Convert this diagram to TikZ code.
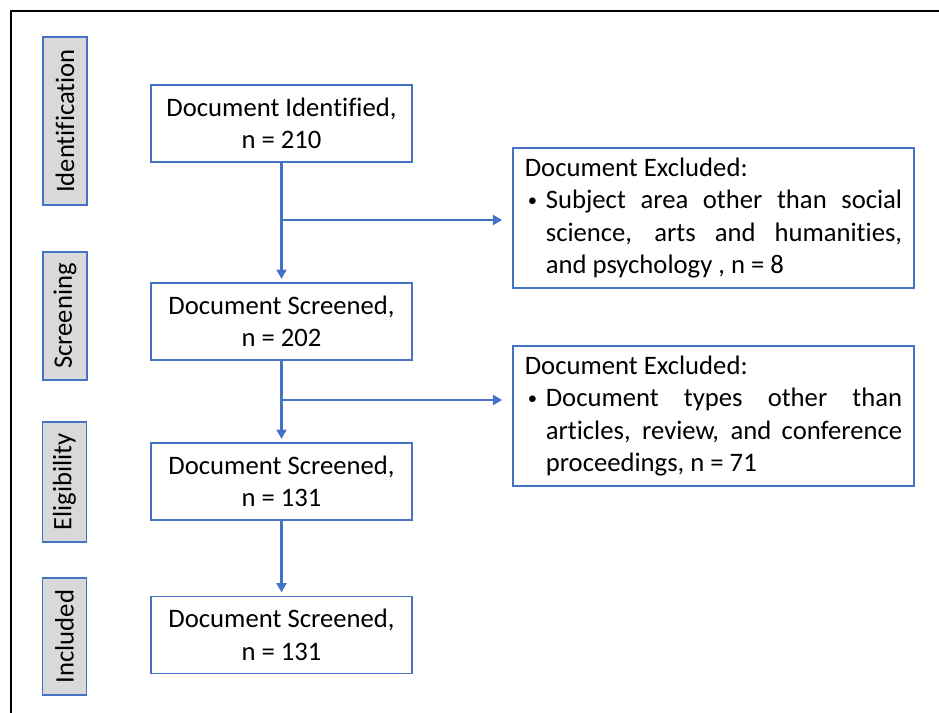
\documentclass[tikz,border=0pt]{standalone}
\usepackage{fontspec}
\setmainfont[Ligatures=NoCommon]{Carlito}
\usetikzlibrary{arrows.meta}
\definecolor{flowblue}{RGB}{68,114,196}
\definecolor{stagegray}{RGB}{217,217,217}
\newcommand{\bulletitem}[1]{\par\noindent\hspace*{2.25pt}\makebox[13.5pt][l]{\raisebox{1.5pt}{\fontsize{14}{14}\selectfont\textbullet}}\parbox[t]{267.25pt}{#1}}

\begin{document}
\begin{tikzpicture}[x=0.75pt,y=-0.75pt,>={Triangle[length=7pt,width=7.5pt]},font=\fontsize{20}{24.4}\selectfont]
\tikzset{
  stage/.style={draw=flowblue,fill=stagegray,line width=1.2pt,rotate=90,minimum height=33pt,inner sep=0pt},
  docbox/.style={draw=flowblue,line width=1.2pt,minimum width=195.75pt,minimum height=57.75pt,align=center,inner sep=0pt},
  exclbox/.style={draw=flowblue,line width=1.2pt,minimum width=300.75pt,minimum height=105pt,text width=283pt,align=justify,inner sep=0pt},
  flow/.style={draw=flowblue,line width=2pt,->,shorten >=2.5pt}
}
\useasboundingbox (0,0) rectangle (939,713);
% frame
\draw[line width=1.5pt] (939,11) -- (11,11) -- (11,713);
% stages
\node[stage,minimum width=126pt] (ident) at (65,121) {Identification};
\node[stage,minimum width=96pt] (screen) at (65,316) {Screening};
\node[stage,minimum width=90pt] (elig) at (64.5,482) {Eligibility};
\node[stage,minimum width=87.75pt] (incl) at (64.5,636.5) {Included};
% documents
\node[docbox] (ident doc) at (281.5,123.5) {Document Identified,\\n = 210};
\node[docbox] (screen doc) at (281.5,321.5) {Document Screened,\\n = 202};
\node[docbox] (elig doc) at (281.5,481.5) {Document Screened,\\n = 131};
\node[docbox] (incl doc) at (281.5,635) {Document Screened,\\n = 131};
% exclusions
\node[exclbox] (excl a) at (713.5,218) {Document Excluded:\bulletitem{Subject area other than social\linebreak science, arts and humanities,\linebreak and psychology , n = 8}};
\node[exclbox] (excl b) at (713.5,416) {Document Excluded:\bulletitem{Document types other than\linebreak articles, review, and conference\linebreak proceedings, n = 71}};
% flow
\coordinate (split a) at (ident doc.south |- 0,220);
\coordinate (split b) at (screen doc.south |- 0,400);
\draw[flow] (ident doc) -- (screen doc);
\draw[flow] (screen doc) -- (elig doc);
\draw[flow] (elig doc) -- (incl doc);
\draw[flow,shorten >=7.5pt] (split a) -- (split a -| excl a.west);
\draw[flow,shorten >=7.5pt] (split b) -- (split b -| excl b.west);
\end{tikzpicture}
\end{document}
